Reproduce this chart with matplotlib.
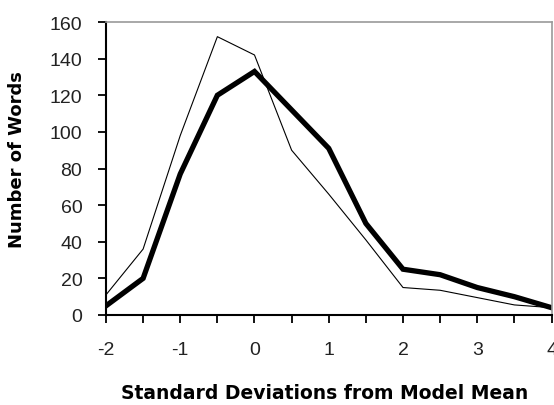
import numpy as np
import matplotlib.pyplot as plt
from matplotlib.ticker import MultipleLocator

plt.rcParams['axes.unicode_minus'] = False

# standard deviations from the model mean
sd = [-2, -1.5, -1, -0.5, 0, 0.5, 1, 1.5, 2, 2.5, 3, 3.5, 4]
# thick line
words_thick = [5, 20, 77, 120, 133, 112, 91, 50, 25, 22, 15, 10, 4]
# thin line
words_thin = [11, 36, 98, 152, 142, 90, 66, 41, 15, 13.5, 9.5, 5.5, 4]

yticks = [0, 20, 40, 60, 80, 100, 120, 140, 160]
xticks = [-2, -1, 0, 1, 2, 3, 4]

fig = plt.figure(figsize=(5.54, 4.06), dpi=100)
ax = fig.add_axes([0.1913, 0.2217, 0.8042, 0.7216])

ax.plot(sd, words_thin, color='black', lw=0.8)
ax.plot(sd, words_thick, color='black', lw=3.8, solid_joinstyle='miter')

ax.set_xlim(-2, 4)
ax.set_ylim(0, 160)
ax.set_xticks(xticks)
ax.set_yticks(yticks)
ax.xaxis.set_minor_locator(MultipleLocator(0.5))

for side in ['top', 'right']:
    ax.spines[side].set_color('#9a9a9a')
    ax.spines[side].set_linewidth(1.2)
for side in ['left', 'bottom']:
    ax.spines[side].set_color('black')
    ax.spines[side].set_linewidth(1.5)

ax.tick_params(axis='both', which='both', direction='out', length=6,
               width=1.3, color='black', labelsize=14)
ax.tick_params(axis='x', which='major', pad=13)
ax.tick_params(axis='y', which='major', pad=11)
for lab in ax.get_xticklabels() + ax.get_yticklabels():
    lab.set_fontfamily('Liberation Sans')
    lab.set_color('#222222')

ax.set_xlabel('Standard Deviations from Model Mean', fontsize=13.5,
              fontweight='bold', family='DejaVu Sans')
ax.set_ylabel('Number of Words', fontsize=13, fontweight='bold',
              family='DejaVu Sans')
ax.xaxis.set_label_coords(0.49, -0.232)
ax.yaxis.set_label_coords(-0.18, 0.535)

fig.savefig('out.png', dpi=100)
